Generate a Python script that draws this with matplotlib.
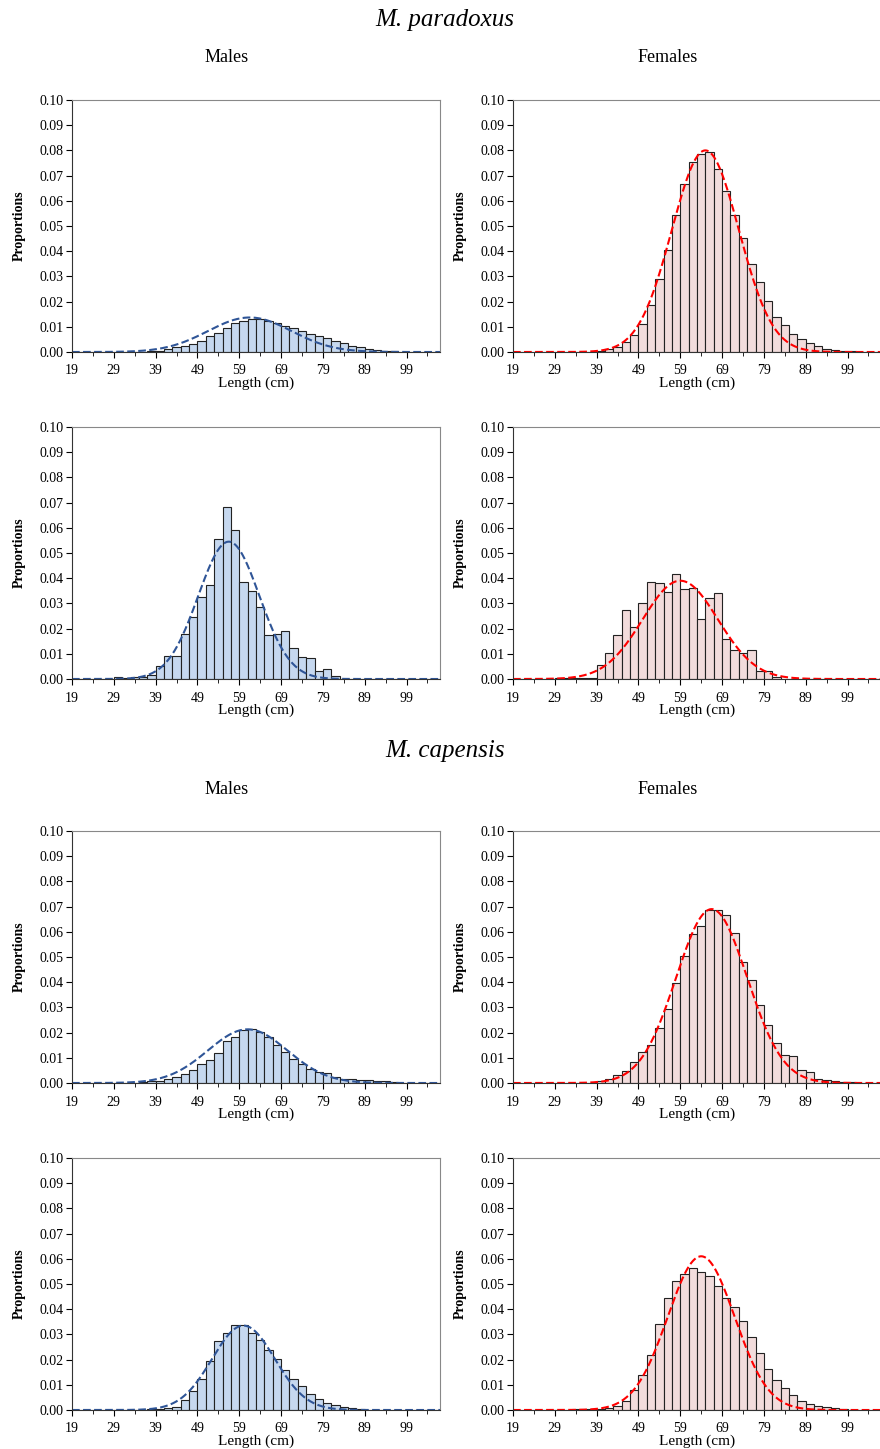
import numpy as np
import matplotlib.pyplot as plt
from matplotlib.ticker import FixedLocator

plt.rcParams['font.family'] = ['Liberation Serif', 'DejaVu Serif']

# === Data: proportions per 2 cm length class (first class starts at given length) ===
bin_edges = np.arange(19, 109, 2)   # 19..107
n_bins = len(bin_edges) - 1

def pad(start, vals):
    out = np.zeros(n_bins)
    i0 = (start - 19) // 2
    out[i0:i0 + len(vals)] = vals
    return out

par_m1 = pad(37, [0.0003, 0.0005, 0.001, 0.0018, 0.0025, 0.003, 0.0045, 0.0065, 0.0075, 0.0095,
                  0.0115, 0.0125, 0.013, 0.013, 0.0125, 0.0115, 0.0103, 0.0095, 0.0085, 0.0072,
                  0.0065, 0.0055, 0.0045, 0.0035, 0.0022, 0.002, 0.0012, 0.0008, 0.0004, 0.0002])
par_f1 = pad(39, [0.0003, 0.001, 0.002, 0.0038, 0.0068, 0.0113, 0.0185, 0.029, 0.0405, 0.0543,
                  0.0665, 0.0753, 0.0787, 0.0793, 0.0725, 0.064, 0.0543, 0.0452, 0.035, 0.0277,
                  0.0203, 0.0138, 0.0107, 0.0073, 0.005, 0.0037, 0.0022, 0.0013, 0.0008, 0.0004, 0.0002])
par_m2 = pad(29, [0.0007, 0.0002, 0.0007, 0.0007, 0.0015, 0.0053, 0.009, 0.009, 0.0178, 0.0245,
                  0.0325, 0.0375, 0.0557, 0.0682, 0.0592, 0.0383, 0.0348, 0.0284, 0.0175, 0.0178,
                  0.019, 0.0123, 0.0088, 0.0085, 0.003, 0.004, 0.001])
par_f2 = pad(29, [0.0005, 0.0005, 0.0002, 0.0002, 0.0002, 0.0055, 0.0105, 0.0175, 0.0272, 0.0208,
                  0.0302, 0.0383, 0.038, 0.0345, 0.0415, 0.0358, 0.0362, 0.0238, 0.0322, 0.034,
                  0.016, 0.0117, 0.0102, 0.0117, 0.0032, 0.0032, 0.0008])
cap_m1 = pad(35, [0.0005, 0.0006, 0.0008, 0.0015, 0.0025, 0.0034, 0.0052, 0.0075, 0.0093, 0.012,
                  0.0168, 0.0182, 0.0212, 0.0216, 0.0203, 0.0182, 0.0152, 0.0123, 0.0096, 0.0075,
                  0.0056, 0.0045, 0.0038, 0.0025, 0.0016, 0.0014, 0.0012, 0.0011, 0.0007, 0.0006, 0.0005])
cap_f1 = pad(33, [0.0001, 0.0001, 0.0001, 0.0008, 0.0017, 0.003, 0.0046, 0.0082, 0.0125, 0.015,
                  0.0219, 0.0293, 0.0395, 0.0505, 0.059, 0.0622, 0.0688, 0.0688, 0.0668, 0.0597,
                  0.048, 0.0407, 0.0308, 0.0232, 0.016, 0.0113, 0.0106, 0.0053, 0.0044, 0.0017,
                  0.0013, 0.0008, 0.0005, 0.0004])
cap_m2 = pad(37, [0.0004, 0.0004, 0.0006, 0.0013, 0.004, 0.0077, 0.0124, 0.0196, 0.0275, 0.0305,
                  0.0337, 0.0337, 0.0307, 0.0279, 0.024, 0.0201, 0.0157, 0.0124, 0.0097, 0.0063,
                  0.0044, 0.0029, 0.0021, 0.0013, 0.0008, 0.0004])
cap_f2 = pad(33, [0.0003, 0.0003, 0.0004, 0.0004, 0.0007, 0.0015, 0.0034, 0.0078, 0.0139, 0.022,
                  0.034, 0.0446, 0.0513, 0.054, 0.0565, 0.0549, 0.0533, 0.0493, 0.0443, 0.0408,
                  0.0355, 0.029, 0.0227, 0.0161, 0.0121, 0.0086, 0.0061, 0.0034, 0.0024, 0.0015,
                  0.0011, 0.0007, 0.0004])

# fitted normal curves: (mean, sd, peak)
fits = {
    'par_m1': (61.5, 10.0, 0.0137), 'par_f1': (65.0, 8.0, 0.080),
    'par_m2': (56.5, 7.3, 0.0545), 'par_f2': (59.0, 9.0, 0.039),
    'cap_m1': (61.0, 9.5, 0.0213), 'cap_f1': (66.5, 8.5, 0.069),
    'cap_m2': (60.0, 7.5, 0.0335), 'cap_f2': (64.0, 8.0, 0.061),
}

panels = [
    ('par_m1', par_m1, 'm', 100), ('par_f1', par_f1, 'f', 100),
    ('par_m2', par_m2, 'm', 427), ('par_f2', par_f2, 'f', 427),
    ('cap_m1', cap_m1, 'm', 831), ('cap_f1', cap_f1, 'f', 831),
    ('cap_m2', cap_m2, 'm', 1158), ('cap_f2', cap_f2, 'f', 1158),
]

W, H = 880, 1449
fig = plt.figure(figsize=(W / 100, H / 100), dpi=100)

styles = {'m': dict(fill='#c6d8ef', line='#2f5597', left=72),
          'f': dict(fill='#f2dcdc', line='#ff0000', left=513)}

xs = np.linspace(19, 107, 400)
yt = np.arange(0, 0.101, 0.01)
for key, vals, sex, top in panels:
    st = styles[sex]
    ax = fig.add_axes([st['left'] / W, 1 - (top + 252) / H, 368 / W, 252 / H])
    ax.bar(bin_edges[:-1], vals, width=2, align='edge', color=st['fill'],
           edgecolor='#222222', linewidth=0.8)
    mu, sd, pk = fits[key]
    ax.plot(xs, pk * np.exp(-(xs - mu) ** 2 / (2 * sd ** 2)), '--', color=st['line'], lw=1.5)
    ax.set_xlim(19, 107)
    ax.set_ylim(0, 0.1)
    ax.xaxis.set_major_locator(FixedLocator(np.arange(19, 100, 10)))
    ax.xaxis.set_minor_locator(FixedLocator(np.arange(24, 107, 10)))
    ax.set_yticks(yt)
    ax.set_yticklabels([f'{v:.2f}' for v in yt])
    ax.tick_params(axis='y', which='major', direction='out', length=4, labelsize=10, pad=2)
    ax.tick_params(axis='x', which='major', direction='out', length=4, labelsize=10, pad=5)
    ax.tick_params(axis='x', which='minor', direction='out', length=3)
    for s in ['top', 'right']:
        ax.spines[s].set_color('#888888')
    ax.spines['left'].set_color('#333333')
    ax.spines['bottom'].set_color('#333333')
    ax.set_xlabel('Length (cm)', fontsize=11, labelpad=-1)
    ax.set_ylabel('Proportions', fontsize=10, fontweight='bold', labelpad=10)

fig.text(445 / W, 1 - 20 / H, 'M. paradoxus', ha='center', va='center', fontsize=18, style='italic')
fig.text(445 / W, 1 - 751 / H, 'M. capensis', ha='center', va='center', fontsize=18, style='italic')
for y in (58, 789):
    fig.text(227 / W, 1 - y / H, 'Males', ha='center', va='center', fontsize=13)
    fig.text(668 / W, 1 - y / H, 'Females', ha='center', va='center', fontsize=13)

fig.savefig('out.png', dpi=100)
